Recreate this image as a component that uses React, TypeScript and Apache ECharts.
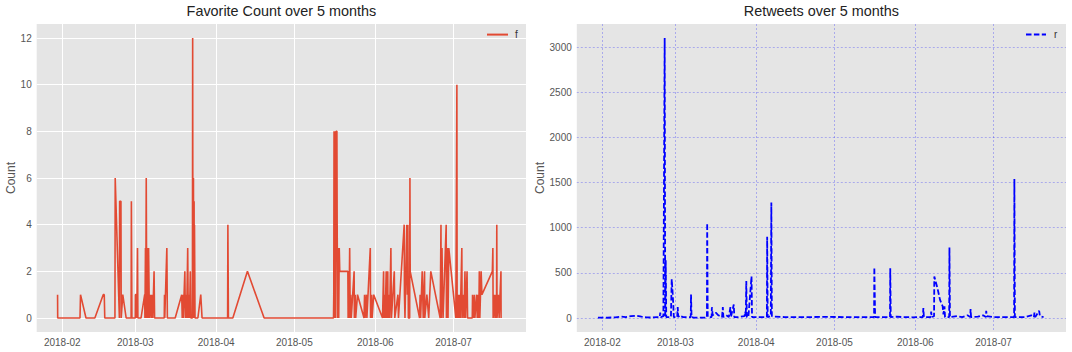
import React, { useEffect, useRef } from "react";
import * as echarts from "echarts";

// Day offsets are counted from 2018-02-01 00:00
const BASE_YEAR = 2018;
const BASE_MONTH = 1; // February (0-based)
const X_MIN_DAY = -9.8;
const X_MAX_DAY = 177.8;

const favTitle = "Favorite Count over 5 months";
const rtTitle = "Retweets over 5 months";
const favTicks = [0, 2, 4, 6, 8, 10, 12];
const rtTicks = [0, 500, 1000, 1500, 2000, 2500, 3000];

// [day offset, favorite count]
const favorites: [number, number][] = [
  [-1.8, 1], [-1.75, 0], [6.8, 0], [7.0, 1], [9.1, 0], [12.5, 0], [15.7, 1], [16.1, 1], [16.3, 0],
  [20.2, 0], [20.3, 6], [21.9, 0], [22.0, 5], [22.5, 5], [22.6, 0], [23.2, 1], [24.5, 0],
  [26.4, 0], [26.5, 5], [26.7, 0], [28.0, 0], [28.05, 1], [28.5, 1], [28.6, 0], [28.85, 3], [29.0, 0],
  [30.2, 0], [31.6, 1], [31.7, 0], [31.9, 3], [32.0, 0], [32.2, 6], [32.4, 0], [32.6, 1], [32.8, 3],
  [33.0, 0], [33.1, 3], [33.3, 1], [33.5, 0], [33.8, 1], [34.2, 0], [34.4, 1], [34.7, 0], [35.2, 2], [35.4, 0],
  [39.1, 0], [39.2, 1], [39.3, 0], [40.1, 3], [40.3, 0],
  [43.3, 0], [45.8, 1], [46.0, 0], [46.2, 1], [46.4, 0], [47.0, 2], [47.2, 0], [47.5, 1], [47.7, 0],
  [48.1, 3], [48.3, 0], [48.6, 1], [48.8, 0], [49.1, 2], [49.3, 0], [49.9, 0], [50.0, 12], [50.1, 0],
  [50.3, 6], [50.4, 0], [50.55, 5], [50.6, 0], [50.7, 4], [50.9, 0], [52.0, 0], [53.1, 1], [53.6, 0],
  [63.4, 0], [63.5, 4], [63.7, 0], [65.4, 0], [71.0, 2], [77.4, 0],
  [104.0, 0], [104.1, 1], [104.2, 8], [104.4, 0], [104.6, 8], [104.8, 0], [105.0, 8], [105.3, 8],
  [105.4, 4], [105.6, 0], [105.8, 3], [106.0, 0], [106.2, 3], [106.4, 2], [109.5, 2], [109.6, 0],
  [109.7, 1], [109.9, 0], [110.2, 3], [110.4, 0], [110.6, 1], [110.8, 0], [111.9, 2], [112.0, 0],
  [112.3, 1], [112.5, 0], [113.2, 1], [115.7, 0], [115.9, 1], [116.1, 0], [116.6, 1], [116.8, 0],
  [118.1, 3], [118.2, 0], [118.6, 1], [118.8, 0], [119.4, 1], [122.8, 0], [123.2, 2], [123.3, 0],
  [123.6, 1], [123.8, 0], [124.2, 2], [124.4, 0], [124.8, 2], [124.9, 0], [125.3, 1], [125.5, 0],
  [126.0, 3], [126.2, 0], [127.3, 2], [127.5, 0], [128.7, 1], [128.9, 0], [131.1, 4], [131.2, 1],
  [131.4, 0], [132.1, 4], [132.3, 1], [132.5, 4], [132.7, 0], [133.2, 0], [133.3, 6], [133.4, 2],
  [137.0, 0], [137.2, 1], [137.4, 0], [138.0, 2], [138.2, 1], [138.4, 0], [138.9, 2], [139.0, 0],
  [139.8, 1], [140.5, 0], [141.3, 2], [144.9, 0], [145.2, 4], [145.3, 0], [145.6, 3], [145.8, 1],
  [146.0, 0], [147.2, 4], [147.3, 0], [147.7, 3], [147.9, 0], [148.2, 3], [150.9, 0], [151.3, 10],
  [151.4, 0], [151.8, 1], [152.0, 0], [152.4, 1], [152.6, 0], [153.2, 3], [153.3, 0], [153.8, 1],
  [154.0, 0], [154.4, 2], [154.6, 0], [155.2, 2], [155.4, 0], [157.2, 0], [157.3, 1], [157.6, 0],
  [158.0, 1], [158.2, 0], [158.9, 1], [159.1, 0], [159.5, 1], [159.7, 0], [159.9, 2], [160.1, 0],
  [160.6, 2], [160.9, 1], [164.9, 2], [165.1, 3], [165.2, 0], [165.7, 1], [165.9, 0], [166.3, 1],
  [166.5, 0], [166.6, 4], [166.7, 0], [167.2, 1], [167.5, 0], [168.2, 2], [168.25, 0],
];

// [day offset, retweet count]
const retweets: [number, number][] = [
  [-1.7, 5], [2, 3], [5, 8], [7, 15], [9, 10], [11, 20], [13, 25], [15, 15], [17, 8], [19, 5], [21, 10],
  [22.0, 10], [22.2, 60], [22.4, 10], [23.4, 20], [23.9, 3100], [24.1, 10], [24.3, 640], [24.5, 10],
  [26.3, 10], [26.6, 430], [26.9, 300], [27.2, 150], [27.4, 10], [28.7, 10], [28.9, 120], [29.1, 10],
  [29.6, 30], [30.1, 20], [31, 10], [33.9, 10], [34.0, 260], [34.2, 10], [35, 5], [40.1, 5],
  [40.2, 1050], [40.4, 10], [41.9, 10], [42.0, 120], [42.3, 30], [43.5, 60], [44.5, 30], [45.9, 10],
  [46.2, 120], [46.4, 10], [47.5, 30], [48.5, 10], [49.1, 120], [49.3, 10], [50.4, 150], [50.6, 10],
  [52, 10], [54.5, 20], [54.8, 70], [55.0, 20], [55.2, 410], [55.4, 10], [56, 10], [57.2, 460],
  [57.4, 10], [60, 10], [63.1, 10], [63.2, 900], [63.4, 10], [64.6, 20], [64.8, 1280], [65.0, 20],
  [66, 15], [70, 10], [78, 10], [85, 12], [95, 10], [104.2, 10], [104.3, 560], [104.4, 360],
  [104.6, 10], [110.3, 10], [110.4, 550], [110.6, 10], [113, 15], [115, 10], [119, 8], [122.9, 10],
  [123.1, 110], [123.3, 10], [125.9, 10], [126.1, 70], [126.3, 10], [127.2, 20], [127.3, 460],
  [128.5, 330], [129.5, 200], [130.5, 130], [130.8, 40], [131.2, 130], [131.4, 10], [133.0, 10],
  [133.1, 780], [133.3, 10], [136, 20], [138, 10], [140, 30], [141.1, 10], [141.2, 100], [141.4, 10],
  [144, 15], [146, 30], [147.1, 10], [147.2, 80], [147.4, 20], [150, 10], [155, 10], [157.9, 10],
  [158.0, 1540], [158.2, 10], [162, 10], [164.5, 30], [165.5, 10], [165.7, 60], [166, 10],
  [167.5, 80], [167.8, 20], [169.2, 10],
];

const DAY = 86400000;
const FONT = "'Liberation Sans', Arial, Helvetica, sans-serif";
const baseTime = new Date(BASE_YEAR, BASE_MONTH, 1).getTime();
const toTime = (d: number) => baseTime + d * DAY;
const pad = (n: number) => (n < 10 ? "0" + n : "" + n);

function xAxisFor(gridIndex: number, gridColor: string, gridType: any, gridWidth: number) {
  return {
    type: "time",
    gridIndex,
    min: toTime(X_MIN_DAY),
    max: toTime(X_MAX_DAY),
    splitNumber: 6,
    minInterval: 28 * DAY,
    maxInterval: 31 * DAY,
    axisLine: { show: false },
    axisTick: { show: false },
    axisLabel: {
      color: "#555555",
      fontSize: 10,
      fontFamily: FONT,
      margin: 5,
      showMinLabel: false,
      showMaxLabel: false,
      hideOverlap: false,
      formatter: (v: number) => {
        const d = new Date(v);
        if (d.getDate() !== 1) return "";
        return d.getFullYear() + "-" + pad(d.getMonth() + 1);
      },
    },
    splitLine: {
      show: true,
      showMinLine: false,
      showMaxLine: false,
      lineStyle: { color: gridColor, type: gridType, width: gridWidth },
    },
  };
}

function yAxisFor(gridIndex: number, min: number, max: number, split: number, ticks: number[], nameGap: number, gridColor: string, gridType: any, gridWidth: number) {
  return {
    type: "value",
    gridIndex,
    min,
    max,
    splitNumber: split,
    name: "Count",
    nameLocation: "middle",
    nameGap,
    nameTextStyle: { color: "#555555", fontSize: 12, fontFamily: FONT },
    axisLine: { show: false },
    axisTick: { show: false },
    axisLabel: {
      color: "#555555",
      fontSize: 10,
      fontFamily: FONT,
      margin: 5,
      showMinLabel: false,
      showMaxLabel: false,
      formatter: (v: number) => (ticks.indexOf(v) >= 0 ? String(v) : ""),
    },
    splitLine: {
      show: true,
      showMinLine: false,
      showMaxLine: false,
      lineStyle: { color: gridColor, type: gridType, width: gridWidth },
    },
  };
}

export default function App() {
  const ref = useRef<HTMLDivElement>(null);
  useEffect(() => {
    document.body.style.margin = "0";
    if (!ref.current) return;
    const chart = echarts.init(ref.current, undefined, { renderer: "svg" });
    const blueGrid = "rgba(0,0,255,0.32)";
    chart.setOption({
      animation: false,
      backgroundColor: "#ffffff",
      textStyle: { fontFamily: FONT },
      title: [
        {
          text: favTitle,
          left: 281.4,
          textAlign: "center",
          top: 4,
          padding: 0,
          textStyle: { fontSize: 14.4, fontWeight: "normal", color: "#222222", fontFamily: FONT },
        },
        {
          text: rtTitle,
          left: 821.4,
          textAlign: "center",
          top: 4,
          padding: 0,
          textStyle: { fontSize: 14.4, fontWeight: "normal", color: "#222222", fontFamily: FONT },
        },
      ],
      legend: [
        {
          data: ["f"],
          left: 486,
          top: 29,
          padding: 0,
          itemWidth: 21,
          itemHeight: 14,
          itemStyle: { opacity: 0 },
          lineStyle: { width: 2 },
          textStyle: { fontSize: 10, color: "#333333", fontFamily: FONT, padding: [0, 0, 0, 2] },
        },
        {
          data: ["r"],
          left: 1025,
          top: 29,
          padding: 0,
          itemWidth: 20,
          itemHeight: 14,
          itemStyle: { opacity: 0 },
          lineStyle: { width: 2 },
          textStyle: { fontSize: 10, color: "#333333", fontFamily: FONT, padding: [0, 0, 0, 3] },
        },
      ],
      grid: [
        { left: 36.7, top: 24, width: 489.3, height: 308, show: true, backgroundColor: "#E5E5E5", borderWidth: 0 },
        { left: 576.8, top: 24, width: 489.2, height: 308, show: true, backgroundColor: "#E5E5E5", borderWidth: 0 },
      ],
      xAxis: [
        xAxisFor(0, "#ffffff", "solid", 1),
        xAxisFor(1, blueGrid, [2, 2], 0.8),
      ],
      yAxis: [
        yAxisFor(0, -0.6, 12.6, 6, favTicks, 20, "#ffffff", "solid", 1),
        yAxisFor(1, -155, 3255, 5, rtTicks, 30, blueGrid, [2, 2], 0.8),
      ],
      series: [
        {
          name: "f",
          type: "line",
          xAxisIndex: 0,
          yAxisIndex: 0,
          symbol: "none",
          showSymbol: false,
          data: favorites.map(([d, v]) => [toTime(d), v]),
          lineStyle: { color: "#E24A33", width: 1.6 },
          itemStyle: { color: "#E24A33" },
        },
        {
          name: "r",
          type: "line",
          xAxisIndex: 1,
          yAxisIndex: 1,
          symbol: "none",
          showSymbol: false,
          data: retweets.map(([d, v]) => [toTime(d), v]),
          lineStyle: { color: "#0000FF", width: 1.8, type: [5.5, 2.4] },
          itemStyle: { color: "#0000FF" },
        },
      ],
    });
    return () => chart.dispose();
  }, []);
  return <div ref={ref} style={{ width: 1072, height: 352 }} />;
}
